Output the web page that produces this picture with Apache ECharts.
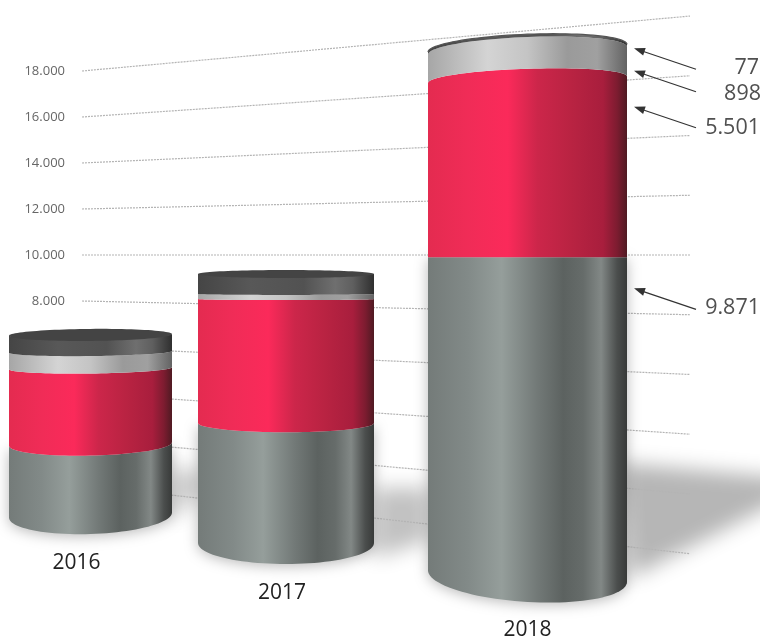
<!DOCTYPE html>
<html><head><meta charset="utf-8">
<style>html,body{margin:0;padding:0;background:#fff}#c{width:760px;height:641px}</style>
<script src="https://cdn.jsdelivr.net/npm/echarts@6/dist/echarts.min.js"></script>
</head><body><div id="c"></div>
<script>
// ---- data ----
const categories = ['2016', '2017', '2018'];
const greyValues   = [3050, 4800, 9871];
const redValues    = [3250, 4960, 5501];
const silverValues = [700, 200, 898];
const darkValues   = [730, 800, 77];
const tickValues   = [0, 2000, 4000, 6000, 8000, 10000, 12000, 14000, 16000, 18000];
const tickLabels   = {8000:'8.000',10000:'10.000',12000:'12.000',14000:'14.000',16000:'16.000',18000:'18.000'};
const segments = [greyValues, redValues, silverValues, darkValues];

// ---- layout & style ----
const FONT = '"Open Sans","Noto Sans",sans-serif';
const HORIZON = 259;
const layout = [
  {left:9,   width:163, base:515, scale:0.0233, max:9000,  c:0.00464, lid:6, tilt:-0.01, labelMargin:38, labelPad:[0,28,0,0],
   shadow:[[0,-47],[28,-45],[28,-20],[0,5]], shadowColor:'#c6c6c6'},
  {left:198, width:176, base:543, scale:0.025,  max:12000, c:0.00439, lid:4, tilt:0,     labelMargin:40, labelPad:[0,8,0,0],
   shadow:[[0,-55],[56,-55],[56,-3],[0,15]], shadowColor:'#c2c2c2'},
  {left:428, width:199, base:578, scale:0.0324, max:17000, c:0.0046, lid:0, tilt:0.018, labelMargin:44, labelPad:[0,0,0,0],
   shadow:[[-7,-113],[160,-98],[160,-79],[3,2]], shadowColor:'#b6b6b6'}
];
const grad = stops => ({type:'linear',x:0,y:0,x2:1,y2:0,colorStops:stops.map(s=>({offset:s[0],color:s[1]}))});
const fills = [
  grad([[0,'#747b79'],[0.2,'#828a88'],[0.37,'#959e9b'],[0.55,'#727977'],[0.68,'#5c6260'],[0.78,'#666c6a'],[0.87,'#828886'],[0.95,'#4b4e4d'],[1,'#383a39']]),
  grad([[0,'#e42b50'],[0.2,'#f02c57'],[0.4,'#fb2a5a'],[0.55,'#cc264a'],[0.72,'#b92342'],[0.88,'#a81e3d'],[0.95,'#7d1c30'],[1,'#4f1a22']]),
  grad([[0,'#a6a6a6'],[0.3,'#d4d4d4'],[0.5,'#c4c4c4'],[0.7,'#9a9a9a'],[0.85,'#a0a0a0'],[1,'#636363']]),
  grad([[0,'#454545'],[0.3,'#585858'],[0.6,'#525252'],[0.78,'#6f6f6f'],[0.88,'#5f5f5f'],[1,'#2f2f2f']])
];
const arrowTipDy = [31, 27, 20, 0];           // arrow tip below the top of its segment
const labelDy    = [20, 21, 23, 20];          // text centre below the arrow tip
const labelRight = [760, 760, 761, 759];

function fmt(v){ return v>=1000 ? Math.floor(v/1000)+'.'+String(v%1000).padStart(3,'0') : String(v); }

const grids=[], xAxes=[], yAxes=[], series=[];

// background grid: perspective gridlines with the left tick scale
grids.push({left:82,width:608,top:25,height:460});
xAxes.push({type:'value',min:0,max:1,show:false});
yAxes.push({type:'value',min:0,max:20000,interval:2000,
  axisLine:{show:false},axisTick:{show:false},splitLine:{show:false},
  axisLabel:{margin:17,fontFamily:FONT,fontSize:13,color:'#666',formatter:v=>tickLabels[v]||''}});
series.push({type:'custom',xAxisIndex:0,yAxisIndex:0,z:2,silent:true,animation:false,clip:false,
  data:tickValues.map(v=>[0,v]),encode:{x:0,y:1},
  renderItem(p,api){
    const a=api.coord([0,api.value(1)]), b=api.coord([1,api.value(1)]);
    const yR=255+(a[1]-255)/0.77;
    return {type:'line',shape:{x1:a[0],y1:a[1],x2:b[0],y2:yR},
      style:{stroke:'#b4b4b4',lineWidth:1.2,lineDash:[2,1]}};
  }});

layout.forEach((L,i)=>{
  const g=i+1, h=L.max*L.scale;
  grids.push({left:L.left,width:L.width,top:L.base-h,height:h});
  xAxes.push({type:'category',gridIndex:g,data:[categories[i]],
    axisLine:{show:false},axisTick:{show:false},
    axisLabel:{margin:L.labelMargin,padding:L.labelPad,fontFamily:FONT,fontSize:21,color:'#222'}});
  yAxes.push({type:'value',gridIndex:g,min:0,max:L.max,show:false,splitLine:{show:false}});

  // ground shadow: the shape sits off-canvas so only its blurred shadow lands on the chart
  const OFF=3000;
  series.push({type:'custom',xAxisIndex:g,yAxisIndex:g,z:1,silent:true,animation:false,clip:false,
    data:[[categories[i]]],encode:{x:0},
    renderItem(p,api){
      const o=api.coord([api.value(0),0]), r=api.size([1,0])[0]/2;
      return {type:'polygon',shape:{points:L.shadow.map(q=>[o[0]+r+q[0]-OFF,o[1]+q[1]])},
        style:{fill:L.shadowColor,shadowBlur:20,shadowColor:L.shadowColor,shadowOffsetX:OFF}};
    }});

  // stacked cylinder
  let acc=0;
  const rows=segments.map((s,j)=>{const r=[categories[i],acc,acc+s[i],j];acc+=s[i];return r;});
  series.push({type:'custom',name:categories[i],xAxisIndex:g,yAxisIndex:g,z:3,silent:true,animation:false,clip:false,
    data:rows,encode:{x:0,y:[1,2]},
    renderItem(p,api){
      const cat=api.value(0), seg=api.value(3);
      const yb=api.coord([cat,api.value(1)]), yt=api.coord([cat,api.value(2)]);
      const xc=yb[0], rad=api.size([1,0])[0]/2;
      const minor=d=>L.c*Math.sign(d)*Math.pow(Math.abs(d),1.5);
      const pt=(e,th,m)=>{const d=e-HORIZON;
        return [xc+rad*Math.cos(th), e+L.tilt*d*Math.cos(th)+(m===undefined?minor(d):m)*Math.sin(th)];};
      const pts=[]; const N=48;
      for(let n=0;n<=N;n++) pts.push(pt(yb[1],Math.PI*(1-n/N)));
      for(let n=0;n<=N;n++) pts.push(pt(yt[1],Math.PI*n/N));
      const style={fill:fills[seg]};
      if(seg===0){style.shadowBlur=14;style.shadowColor='rgba(0,0,0,0.28)';style.shadowOffsetY=2;}
      const children=[{type:'polygon',shape:{points:pts},style}];
      if(seg===3){
        if(yt[1]>HORIZON){
          const lid=[];for(let n=0;n<N*2;n++) lid.push(pt(yt[1],Math.PI*n/N,L.lid));
          children.push({type:'polygon',shape:{points:lid},style:{fill:'#444444'}});
        } else {
          const rim=[];for(let n=0;n<=N;n++) rim.push(pt(yt[1],Math.PI*n/N));
          children.push({type:'polyline',shape:{points:rim},style:{stroke:'#555',lineWidth:1.2,fill:null}});
        }
      }
      return {type:'group',children};
    }});

  // arrows & value labels for the last year
  if(i===layout.length-1){
    series.push({type:'custom',xAxisIndex:g,yAxisIndex:g,z:4,silent:true,animation:false,clip:false,
      data:rows,encode:{x:0,y:2},
      renderItem(p,api){
        const cat=api.value(0), seg=api.value(3);
        const t=api.coord([cat,api.value(2)]), rad=api.size([1,0])[0]/2;
        const tx=t[0]+rad+7, ty=t[1]+arrowTipDy[seg];
        const ang=Math.atan2(21,62), a=11, w=4;
        const ca=Math.cos(ang), sa=Math.sin(ang);
        return {type:'group',children:[
          {type:'line',shape:{x1:tx+a*ca*0.7,y1:ty+a*sa*0.7,x2:tx+62,y2:ty+21},style:{stroke:'#333',lineWidth:1.2}},
          {type:'polygon',shape:{points:[[tx,ty],[tx+a*ca-w*sa,ty+a*sa+w*ca],[tx+a*ca+w*sa,ty+a*sa-w*ca]]},style:{fill:'#333'}},
          {type:'text',x:labelRight[seg],y:ty+labelDy[seg],
            style:{text:fmt(api.value(2)-api.value(1)),fontFamily:FONT,fontSize:21.5,fill:'#505050',align:'right',verticalAlign:'middle'}}
        ]};
      }});
  }
});

const chart=echarts.init(document.getElementById('c'),null,{renderer:'canvas'});
chart.setOption({animation:false,backgroundColor:'#fff',grid:grids,xAxis:xAxes,yAxis:yAxes,series});
</script></body></html>
